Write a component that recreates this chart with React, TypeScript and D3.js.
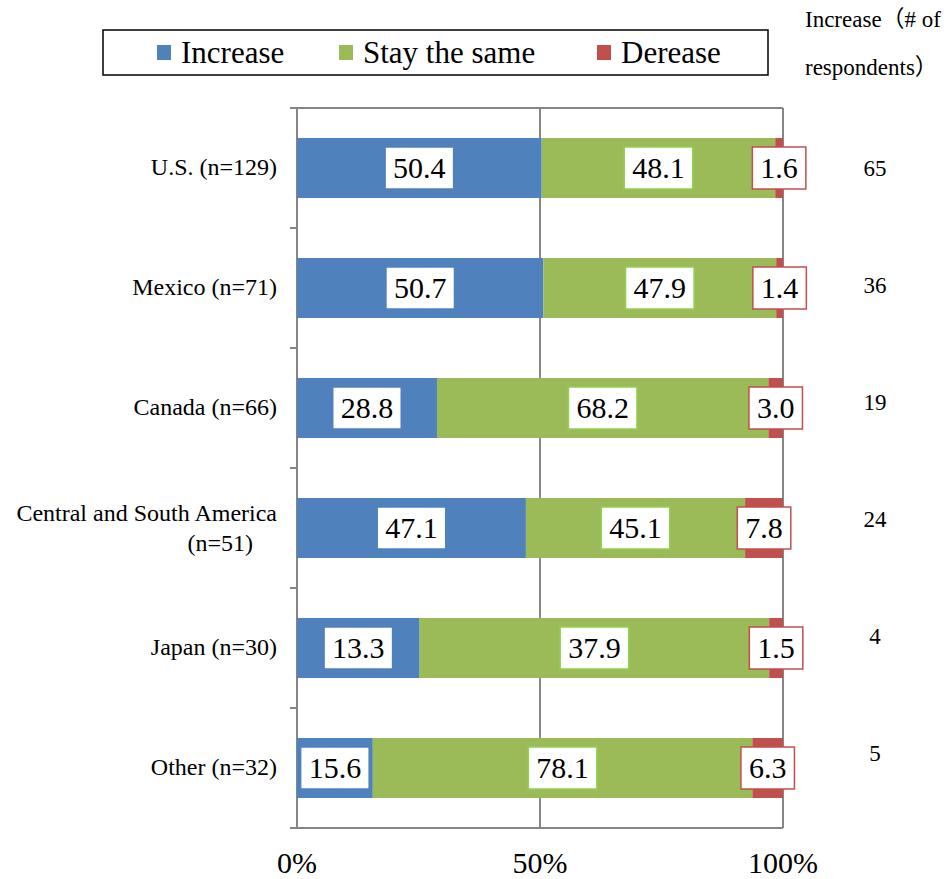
import React from "react";
import * as d3 from "d3";

const categories = [
  "U.S. (n=129)",
  "Mexico (n=71)",
  "Canada (n=66)",
  "Central and South America|(n=51)",
  "Japan (n=30)",
  "Other (n=32)",
];
const increase = [50.4, 50.7, 28.8, 47.1, 13.3, 15.6];
const stay = [48.1, 47.9, 68.2, 45.1, 37.9, 78.1];
const decrease = [1.6, 1.4, 3.0, 7.8, 1.5, 6.3];
const counts = [65, 36, 19, 24, 4, 5];
const seriesNames = ["Increase", "Stay the same", "Derease"];
const xTicks = [0, 50, 100];
const rightHeader = ["Increase（# of", "respondents）"];

const colors = ["#4F81BD", "#9BBB59", "#C0504D"];
const borderColors = ["#4F81BD", "#92D050", "#C0504D"];
const FONT = "Liberation Serif, Times New Roman, serif";
const FONT_CJK = "Liberation Serif, Noto Sans CJK JP, serif";
const GRID = "#868686";

function textWidth(s: string, size: number) {
  let w = 0;
  for (const c of s) w += c === "." ? 0.25 : 0.5;
  return w * size;
}

export default function App() {
  const W = 950, H = 879;
  const x = d3.scaleLinear().domain([0, 100]).range([297, 783]);
  const y = d3.scaleBand<string>().domain(categories).range([108, 828]).paddingInner(0.5).paddingOuter(0.25);
  const yRight = d3.scalePoint<string>().domain(categories).range([168, 753]);

  const rows = categories.map((c, i) => {
    const vals = [increase[i], stay[i], decrease[i]];
    const total = d3.sum(vals);
    let acc = 0;
    const segs = vals.map((v, k) => {
      const s0 = (acc / total) * 100;
      acc += v;
      const s1 = (acc / total) * 100;
      return { k, v, s0, s1 };
    });
    return { c, i, segs };
  });

  const labelSize = 30;
  const catSize = 24;
  const yTickPos = d3.range(categories.length + 1).map((k) => 108 + k * y.step());
  const ts = { fontFamily: FONT };

  return (
    <svg width={W} height={H} style={{ position: "absolute", left: 0, top: 0, background: "#fff", fontFamily: FONT }}>
      {/* legend */}
      <rect x={103} y={30} width={665} height={45} fill="#fff" stroke="#000" strokeWidth={1.5} />
      {seriesNames.map((n, k) => {
        const lx = [157, 339, 597][k];
        return (
          <g key={n}>
            <rect x={lx} y={45} width={14} height={15} fill={colors[k]} />
            <text x={lx + 24} y={63} fontSize={31} fill="#000" style={ts}>{n}</text>
          </g>
        );
      })}
      {/* right header */}
      {rightHeader.map((t, k) => (
        <text key={t} x={805} y={27 + k * 48} fontSize={23} fill="#000" style={{ fontFamily: FONT_CJK }}>{t}</text>
      ))}

      {/* grid and axes */}
      <line x1={290} x2={x(100)} y1={108} y2={108} stroke={GRID} strokeWidth={2} />
      {[50, 100].map((t) => (
        <line key={t} x1={x(t)} x2={x(t)} y1={108} y2={828} stroke={GRID} strokeWidth={2} />
      ))}
      <line x1={x(0)} x2={x(0)} y1={108} y2={828} stroke={GRID} strokeWidth={2} />
      {yTickPos.map((p) => (
        <line key={p} x1={290} x2={x(0)} y1={p} y2={p} stroke={GRID} strokeWidth={2} />
      ))}
      <line x1={290} x2={x(100)} y1={828} y2={828} stroke={GRID} strokeWidth={2} />

      {/* bars */}
      {rows.map((r) =>
        r.segs.map((s) => (
          <rect
            key={r.c + s.k}
            x={x(s.s0)}
            width={x(s.s1) - x(s.s0)}
            y={y(r.c)!}
            height={y.bandwidth()}
            fill={colors[s.k]}
          />
        ))
      )}

      {/* data labels */}
      {rows.map((r) =>
        r.segs.map((s) => {
          const txt = s.v.toFixed(1);
          const cx = (x(s.s0) + x(s.s1)) / 2;
          const cy = y(r.c)! + y.bandwidth() / 2;
          const bw = textWidth(txt, labelSize) + 16;
          const bh = 42;
          return (
            <g key={"l" + r.c + s.k}>
              <rect x={cx - bw / 2} y={cy - bh / 2} width={bw} height={bh} fill="#fff" stroke={borderColors[s.k]} strokeWidth={1.5} />
              <text x={cx} y={cy + 10} textAnchor="middle" fontSize={labelSize} fill="#000" style={ts}>{txt}</text>
            </g>
          );
        })
      )}

      {/* category labels */}
      {categories.map((c) => {
        const cy = y(c)! + y.bandwidth() / 2;
        const parts = c.split("|");
        if (parts.length === 1)
          return <text key={c} x={277} y={cy + 7} textAnchor="end" fontSize={catSize} fill="#000" style={ts}>{c}</text>;
        return (
          <g key={c}>
            <text x={277} y={cy - 7} textAnchor="end" fontSize={catSize} fill="#000" style={ts}>{parts[0]}</text>
            <text x={253} y={cy + 23} textAnchor="end" fontSize={catSize} fill="#000" style={ts}>{parts[1]}</text>
          </g>
        );
      })}

      {/* right counts */}
      {categories.map((c, i) => (
        <text key={"n" + c} x={875} y={yRight(c)! + 8} textAnchor="middle" fontSize={23} fill="#000" style={ts}>{counts[i]}</text>
      ))}

      {/* x tick labels */}
      {xTicks.map((t) => (
        <text key={t} x={x(t)} y={873} textAnchor="middle" fontSize={30} fill="#000" style={ts}>{t + "%"}</text>
      ))}
    </svg>
  );
}
